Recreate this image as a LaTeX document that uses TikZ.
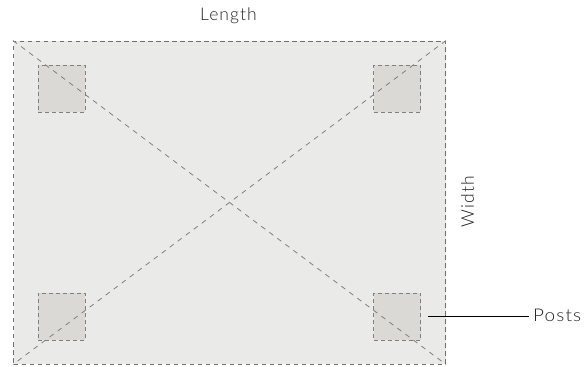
\documentclass[tikz,border=0pt]{standalone}
\usepackage{fontspec}
\setmainfont{Lato Light}[LetterSpace=6]
\usepackage{xcolor}
\definecolor{fieldfill}{HTML}{EAEAE9}
\definecolor{postfill}{HTML}{DAD9D6}
\definecolor{dashgray}{HTML}{707070}
\definecolor{postgray}{HTML}{808080}
\definecolor{textgray}{HTML}{202020}
\begin{document}
\begin{tikzpicture}[x=1pt,y=1pt,
  field/.style={draw=dashgray,fill=fieldfill,line width=0.9pt,dash pattern=on 4.5pt off 3.5pt,minimum width=432pt,minimum height=323pt,inner sep=0pt},
  post/.style={draw=postgray,fill=postfill,line width=1pt,dash pattern=on 4pt off 3pt,minimum size=47pt,inner sep=0pt},
  diag/.style={draw=postgray,line width=0.8pt,dash pattern=on 5pt off 5pt},
  lbl/.style={text=textgray,font=\fontsize{17.5}{20}\selectfont,inner sep=0pt}]
\useasboundingbox (0,0) rectangle (587,367);
\node[field] (plot) at (229.5,164.5) {};
\node[post] (postA) at (61.5,278) {};
\node[post] (postB) at (397,278) {};
\node[post] (postC) at (61.5,50) {};
\node[post] (postD) at (397,50) {};
\draw[diag] (plot.north west) -- (plot.south east);
\draw[diag] (plot.north east) -- (plot.south west);
\node[lbl] (lenlabel) at (228.5,351.5) {Length};
\node[lbl,rotate=90] (widlabel) at (467.5,165.5) {Width};
\node[lbl,anchor=west,xscale=1.08] (postlabel) at (533,52) {Posts};
\coordinate (leadstart) at ([xshift=6.5pt,yshift=1pt]postD.east);
\coordinate (leadend) at (529,0 |- leadstart);
\draw[line width=0.8pt,black] (leadstart) -- (leadend);
\end{tikzpicture}
\end{document}
